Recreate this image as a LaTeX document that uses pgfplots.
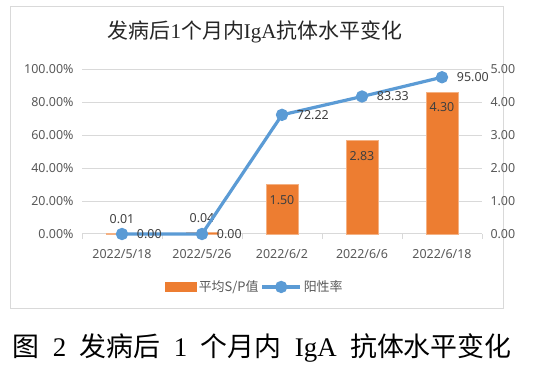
\documentclass[border=0pt]{standalone}
\usepackage{pgfplots}
\pgfplotsset{compat=1.18}
\usepackage{fontspec}
\setmainfont{Noto Sans}
\newfontfamily\cjk{Noto Sans CJK SC}
\newfontfamily\lsr{Liberation Serif}
\definecolor{barc}{HTML}{ED7D31}
\definecolor{linec}{HTML}{5B9BD5}
\definecolor{txt}{HTML}{595959}
\definecolor{lbl}{HTML}{404040}
\definecolor{gridc}{HTML}{D9D9D9}
\begin{document}
\begin{tikzpicture}
\useasboundingbox (0bp,0bp) rectangle (550bp,373bp);
\fill[white] (0bp,0bp) rectangle (550bp,373bp);
\draw[gridc, line width=1bp] (10bp,366bp) rectangle (503bp,64bp);
\node[font=\fontsize{21}{24}\selectfont, text=black!85] at (255bp,341bp) {{\cjk 发病后}{\lsr 1}{\cjk 个月内}{\lsr IgA}{\cjk 抗体水平变化}};
\node[font=\fontsize{27}{30}\selectfont, text=black] at (262bp,25bp) {{\cjk 图}\hspace{0.5em}{\lsr 2}\hspace{0.5em}{\cjk 发病后}\hspace{0.5em}{\lsr 1}\hspace{0.5em}{\cjk 个月内}\hspace{0.5em}{\lsr IgA}\hspace{0.5em}{\cjk 抗体水平变化}};
% bars, right axis
\begin{axis}[at={(82bp,139bp)}, anchor=south west, scale only axis,
  width=400bp, height=165bp,
  xmin=-0.5, xmax=4.5, ymin=0, ymax=5,
  axis line style={draw=none},
  ymajorgrids, grid style={gridc, line width=1bp},
  ytick={0,1,...,5}, yticklabels={0.00,1.00,2.00,3.00,4.00,5.00},
  ytick pos=right, yticklabel pos=right,
  xtick={0,...,4}, xticklabels={2022/5/18,2022/5/26,2022/6/2,2022/6/6,2022/6/18},
  xtick pos=bottom, major tick length=0pt,
  extra x ticks={-0.5,0.5,1.5,2.5,3.5,4.5}, extra x tick labels={},
  extra x tick style={grid=none, tick align=outside, major tick length=5bp, tick style={draw=gridc, line width=1bp}},
  tick label style={font=\fontsize{12.5}{14}\selectfont, text=txt},
  yticklabel style={xshift=5bp},
  xticklabel style={yshift=-12bp},
  clip=false,
]
\addplot[ybar, bar width=0.4, bar shift=0pt, fill=barc, draw=barc!60, line width=0.8bp] coordinates {(0,0.01)(1,0.04)(2,1.50)(3,2.83)(4,4.30)};
\addplot[draw=none, mark=none, nodes near coords, point meta=explicit symbolic,
  nodes near coords style={anchor=south, yshift=6bp, font=\fontsize{12.5}{14}\selectfont, text=lbl}]
  coordinates {(0,0.01)[0.01] (1,0.04)[0.04]};
\addplot[draw=none, mark=none, nodes near coords, point meta=explicit symbolic,
  nodes near coords style={anchor=north, yshift=-7bp, font=\fontsize{12.5}{14}\selectfont, text=lbl}]
  coordinates {(2,1.50)[1.50] (3,2.83)[2.83] (4,4.30)[4.30]};
\end{axis}
% line, left axis
\begin{axis}[at={(82bp,139bp)}, anchor=south west, scale only axis,
  width=400bp, height=165bp,
  xmin=-0.5, xmax=4.5, ymin=0, ymax=100,
  axis line style={draw=none},
  xtick=\empty,
  ytick={0,20,...,100}, yticklabels={0.00\%,20.00\%,40.00\%,60.00\%,80.00\%,100.00\%},
  ytick pos=left, major tick length=0pt,
  tick label style={font=\fontsize{12.5}{14}\selectfont, text=txt},
  yticklabel style={xshift=-5bp},
  clip=false,
  legend columns=2,
  legend style={draw=none, fill=none, at={(0.4325,-0.321)}, anchor=center,
    font=\fontsize{13}{15}\selectfont, text=txt,
    /tikz/every even column/.append style={column sep=0bp}},
]
\addlegendimage{legend image code/.code={\fill[barc] (0bp,-4.5bp) rectangle (31bp,4.5bp);}}
\addlegendentry{\cjk 平均S/P值}
\addplot[linec, line width=3.2bp, mark=*, mark size=4.5bp, mark options={fill=linec, draw=none},
  nodes near coords, point meta=explicit symbolic,
  nodes near coords style={anchor=west, xshift=10bp, font=\fontsize{12.5}{14}\selectfont, text=lbl},
  legend image code/.code={\draw[linec, line width=3.2bp] (0bp,0bp) -- (38bp,0bp); \fill[linec] (19bp,0bp) circle (4.5bp);}]
  coordinates {(0,0)[0.00] (1,0)[0.00] (2,72.22)[72.22] (3,83.33)[83.33] (4,95.00)[95.00]};
\addlegendentry{\cjk 阳性率}
\end{axis}
\end{tikzpicture}
\end{document}
